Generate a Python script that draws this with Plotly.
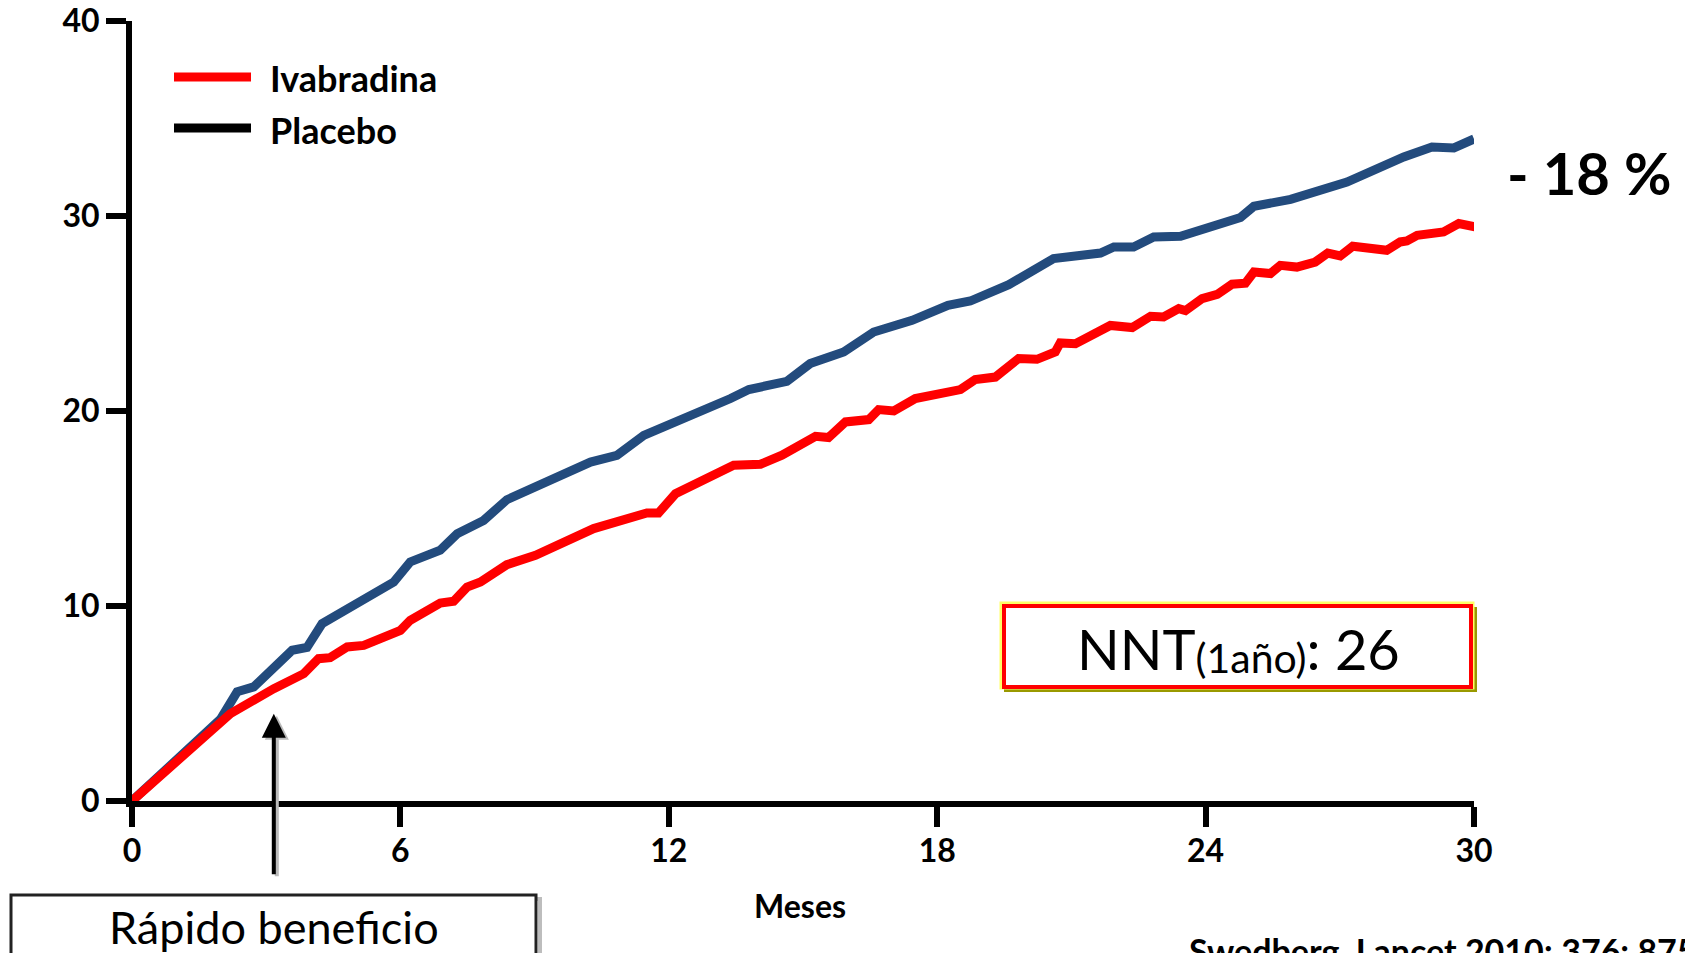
import plotly.graph_objects as go

# Cumulative event rate (%) over follow-up (months)
months_placebo = [0, 1.98, 2.35, 2.72, 3.58, 3.91, 4.25, 5.85, 6.22, 6.89, 7.27, 7.86, 8.38,
                  10.25, 10.84, 11.44, 13.38, 13.79, 14.64, 15.16, 15.91, 16.58, 17.44, 18.24,
                  18.74, 19.23, 19.6, 20.6, 21.65, 21.95, 22.39, 22.84, 23.44, 24.78, 25.08,
                  25.9, 26.62, 27.16, 28.43, 29.06, 29.55, 30.0]
placebo = [0, 4.2, 5.6, 5.85, 7.73, 7.87, 9.1, 11.23, 12.26, 12.86, 13.71, 14.39, 15.45,
           17.38, 17.73, 18.75, 20.64, 21.1, 21.52, 22.43, 23.03, 24.05, 24.65, 25.42,
           25.64, 26.19, 26.48, 27.82, 28.1, 28.41, 28.41, 28.92, 28.96, 29.92, 30.5,
           30.85, 31.38, 31.74, 33.03, 33.54, 33.49, 33.95]

months_ivab = [0, 2.2, 3.17, 3.84, 4.17, 4.43, 4.81, 5.18, 6.0, 6.22, 6.89, 7.19, 7.49, 7.79,
               8.38, 9.02, 10.32, 11.51, 11.77, 12.15, 13.45, 14.05, 14.53, 15.28, 15.57,
               15.95, 16.47, 16.69, 17.03, 17.51, 18.52, 18.85, 19.3, 19.82, 20.23, 20.64,
               20.75, 21.09, 21.87, 22.36, 22.77, 23.06, 23.4, 23.55, 23.92, 24.26, 24.59,
               24.89, 25.08, 25.45, 25.67, 26.04, 26.45, 26.73, 27.01, 27.29, 28.05, 28.35,
               28.5, 28.73, 29.32, 29.66, 30.03]
ivabradina = [0, 4.48, 5.76, 6.53, 7.3, 7.35, 7.9, 7.98, 8.75, 9.27, 10.15, 10.24, 10.97, 11.23,
              12.12, 12.6, 13.97, 14.77, 14.77, 15.76, 17.22, 17.27, 17.73, 18.7, 18.64,
              19.44, 19.56, 20.07, 20.0, 20.64, 21.1, 21.61, 21.74, 22.69, 22.65, 23.03,
              23.49, 23.45, 24.39, 24.28, 24.86, 24.82, 25.25, 25.15, 25.76, 25.98, 26.5,
              26.55, 27.13, 27.05, 27.47, 27.38, 27.64, 28.1, 27.95, 28.45, 28.24, 28.67,
              28.72, 29.01, 29.18, 29.61, 29.44]

x_ticks = [0, 6, 12, 18, 24, 30]
y_ticks = [0, 10, 20, 30, 40]

FIG_W, FIG_H = 1685, 953
L, T, W, H = 132, 21, 1342, 780
FONT = "Lato"
BLUE = "#234B7D"
RED = "#FF0000"


def px(X):
    return (X - L) / W


def py(Y):
    return (T + H - Y) / H


fig = go.Figure()
fig.add_trace(go.Scatter(x=months_placebo, y=placebo, mode="lines", name="Placebo",
                         line=dict(color=BLUE, width=9), hoverinfo="skip", showlegend=False))
fig.add_trace(go.Scatter(x=months_ivab, y=ivabradina, mode="lines", name="Ivabradina",
                         line=dict(color=RED, width=9), hoverinfo="skip", showlegend=False))

axis_common = dict(showline=True, linewidth=6, linecolor="black", ticks="outside",
                   ticklen=20, tickwidth=6, tickcolor="black", showgrid=False,
                   zeroline=False, automargin=False,
                   tickfont=dict(family=FONT, size=32, color="black", weight="bold"))
fig.update_xaxes(range=[0, 30], tickvals=x_ticks, ticklabelstandoff=-3, **axis_common)
fig.update_yaxes(range=[0, 40], tickvals=y_ticks, **axis_common)

shapes = []
# legend samples
shapes.append(dict(type="line", xref="paper", yref="paper", x0=px(174), x1=px(251),
                   y0=py(77), y1=py(77), line=dict(color=RED, width=9)))
shapes.append(dict(type="line", xref="paper", yref="paper", x0=px(174), x1=px(251),
                   y0=py(128), y1=py(128), line=dict(color="black", width=9)))
# NNT box: shadow, glow, border
shapes.append(dict(type="rect", xref="paper", yref="paper", x0=px(1006), x1=px(1475),
                   y0=py(690), y1=py(609), line=dict(color="#999900", width=4)))
shapes.append(dict(type="rect", xref="paper", yref="paper", x0=px(1001), x1=px(1473),
                   y0=py(688), y1=py(603), line=dict(color="#FFFF66", width=3)))
shapes.append(dict(type="rect", xref="paper", yref="paper", x0=px(1004), x1=px(1471),
                   y0=py(687), y1=py(606), line=dict(color=RED, width=4),
                   fillcolor="white"))
# "Rápido beneficio" box
shapes.append(dict(type="rect", xref="paper", yref="paper", x0=px(15), x1=px(540),
                   y0=py(985), y1=py(899), line=dict(color="#BDBDBD", width=4)))
shapes.append(dict(type="rect", xref="paper", yref="paper", x0=px(11), x1=px(536),
                   y0=py(980), y1=py(895), line=dict(color="#222222", width=3),
                   fillcolor="white"))

annotations = [
    dict(xref="paper", yref="paper", x=px(268), y=py(78), xanchor="left", yanchor="middle",
         text="Ivabradina", showarrow=False,
         font=dict(family=FONT, size=36, color="black", weight="bold")),
    dict(xref="paper", yref="paper", x=px(268), y=py(130), xanchor="left", yanchor="middle",
         text="Placebo", showarrow=False,
         font=dict(family=FONT, size=36, color="black", weight="bold")),
    dict(xref="paper", yref="paper", x=px(800), y=py(905), xanchor="center",
         yanchor="middle", text="Meses", showarrow=False,
         font=dict(family=FONT, size=32, color="black", weight="bold")),
    dict(xref="paper", yref="paper", x=px(1505), y=py(173), xanchor="left",
         yanchor="middle", text="- 18 %", showarrow=False,
         font=dict(family=FONT, size=58, color="black", weight="bold")),
    dict(xref="paper", yref="paper", x=px(1238), y=py(648), xanchor="center",
         yanchor="middle",
         text="NNT<span style='font-size:41px;baseline-shift:-3px'>(1año)</span>: 26",
         showarrow=False, font=dict(family=FONT, size=56, color="black")),
    dict(xref="paper", yref="paper", x=px(274), y=py(927), xanchor="center",
         yanchor="middle", text="Rápido beneficio", showarrow=False,
         font=dict(family=FONT, size=45, color="black")),
    dict(xref="paper", yref="paper", x=px(1187), y=py(950), xanchor="left",
         yanchor="middle", text="Swedberg. Lancet 2010; 376: 875-85", showarrow=False,
         font=dict(family=FONT, size=34, color="black", weight="bold")),
    # arrow shadow and arrow
    dict(x=3.17, y=4.48, xref="x", yref="y", text="", showarrow=True, ax=0, ay=162,
         arrowhead=2, arrowsize=1.2, arrowwidth=4, arrowcolor="#BBBBBB", xshift=3,
         yshift=-2),
    dict(x=3.17, y=4.48, xref="x", yref="y", text="", showarrow=True, ax=0, ay=162,
         arrowhead=2, arrowsize=1.2, arrowwidth=4, arrowcolor="black"),
]

fig.update_layout(width=FIG_W, height=FIG_H, autosize=False,
                  margin=dict(l=L, r=FIG_W - L - W, t=T, b=FIG_H - T - H),
                  paper_bgcolor="white", plot_bgcolor="white",
                  shapes=shapes, annotations=annotations, showlegend=False)

fig.write_html("out.html", config={"displayModeBar": False})
